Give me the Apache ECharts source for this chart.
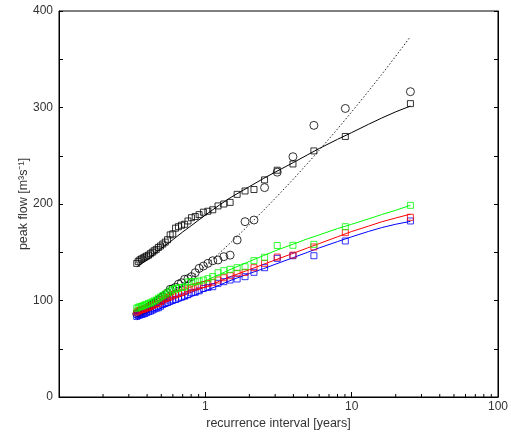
<!DOCTYPE html>
<html><head><meta charset="utf-8">
<script src="https://cdn.jsdelivr.net/npm/echarts@6/dist/echarts.min.js"></script>
<style>html,body{margin:0;padding:0;background:#fff}#c{width:511px;height:435px}</style>
</head><body><div id="c"></div>
<script>
// recurrence interval of each ranked event [years]
const returnPeriods = [25.21, 9.05, 5.52, 3.97, 3.10, 2.54, 2.15, 1.868, 1.650, 1.477, 1.337, 1.221, 1.124, 1.041, 0.970, 0.907, 0.853, 0.804, 0.761, 0.722, 0.687, 0.655, 0.626, 0.599, 0.575, 0.552, 0.532, 0.512, 0.494, 0.478, 0.462, 0.447, 0.434, 0.421, 0.409, 0.397, 0.386, 0.376, 0.366, 0.357, 0.348, 0.340];
const blackSquares = [304, 270, 255, 241.5, 235, 225, 215, 213.5, 210, 201.7, 200, 198, 194, 192.5, 191.5, 189, 187, 185.8, 182.4, 179, 178, 176.5, 175, 169, 168, 163, 160.5, 158.5, 156.5, 155, 153, 151.5, 150, 148.5, 147, 146, 145, 144, 143, 142, 140.5, 138.5];
const blackCircles = [316.4, 299, 281.5, 249, 233, 217, 183.4, 181.7, 162.7, 147, 145.4, 142, 141.2, 138.5, 135.7, 133.3, 128.8, 124.7, 122.6, 122, 118.4, 117, 113.7, 112.2, 111.6, 108, 106, 104, 102, 100.5, 99, 97.5, 96, 94.5, 93, 92, 91, 90, 89, 88, 87, 86];
const greenSquares = [198.6, 176.5, 158.2, 157.2, 157, 144.8, 141.3, 135, 134, 132.3, 130.9, 128.8, 124.7, 122.6, 121.2, 120.2, 119.5, 119.5, 119.2, 114, 113.5, 113, 112.6, 111.5, 110, 108, 106.5, 105, 103.5, 102.3, 100.5, 99.5, 98.5, 97.5, 97, 96, 95.5, 94.5, 94, 93.5, 93, 92];
const redSquares = [186.2, 170.3, 155.5, 147, 145, 138.5, 134, 129.2, 128.2, 125.7, 123.6, 121.2, 118.9, 117.5, 116.5, 115.5, 114.3, 113.5, 112, 110, 108.5, 107.5, 106.5, 105.7, 104.5, 103, 102, 100.5, 99, 97, 96.5, 95.5, 95, 94, 93, 92.5, 91.5, 91, 90.5, 90, 89, 88];
const blueSquares = [182.4, 161.7, 146.4, 146.4, 143.7, 134, 129.2, 124.7, 122.3, 121.2, 119.5, 117.8, 114.3, 113.5, 112.5, 110, 108.5, 108, 106, 104.5, 103.5, 102.5, 101, 100.5, 99.5, 98, 97, 96, 94, 92.5, 92, 91, 90, 89, 88.5, 87.5, 86.5, 86, 85.5, 85, 84.5, 83.5];

// fitted frequency curves
const fitPeriods = [0.34, 0.4, 0.5, 0.6, 0.7, 0.8, 1, 1.25, 1.5, 2, 2.5, 3, 4, 5, 6, 8, 10, 13, 16, 20, 25.2];
const blackFit = [135, 142, 154, 163, 171, 177.5, 188.5, 199, 207, 218, 226.5, 233, 243, 251, 257.5, 267, 274, 282.5, 289, 295.5, 301.5];
const dottedFit = [80, 86.5, 97.9, 107.4, 115.8, 123.2, 136, 149.2, 160.4, 178.7, 193.5, 205.8, 225.9, 242.1, 255.7, 277.7, 295.4, 316.7, 334, 353.1, 373.4];
const greenFit = [92, 95.5, 101, 106, 110.5, 114, 120.5, 127, 132.5, 140.5, 146.5, 151.5, 158.5, 164, 168, 174.5, 179, 184.5, 189, 193.5, 198.6];
const redFit = [88, 91.5, 96.5, 101, 105, 108.5, 114, 120, 125, 132, 137.5, 142, 149, 154.5, 159, 166, 171.5, 177, 181.5, 185.5, 189.5];
const blueFit = [83, 87, 92, 96.5, 100.5, 104, 110, 116, 121, 128, 133, 137.5, 144.5, 150, 154.5, 161, 166, 171.5, 175.5, 179, 182];

const xMinorTicks = [0.2,0.3,0.4,0.5,0.6,0.7,0.8,0.9,2,3,4,5,6,7,8,9,20,30,40,50,60,70,80,90];
const yTickLabels = [0, 100, 200, 300, 400];

const pairs = (xs, ys) => xs.map((x, i) => [x, ys[i]]);
const FONT = 'Liberation Sans';
const hollow = c => ({ color: 'rgba(0,0,0,0)', borderColor: c, borderWidth: 1 });

const sq = (name, vals, c) => ({
  type: 'scatter', name, data: pairs(returnPeriods, vals), symbol: 'rect', symbolSize: 6,
  itemStyle: hollow(c), z: 3
});
const ln = (name, vals, c, type) => ({
  type: 'line', name, data: pairs(fitPeriods, vals), showSymbol: false, smooth: false,
  lineStyle: { color: c, width: 1, type: type || 'solid' }, z: 2
});

const chart = echarts.init(document.getElementById('c'), null, { renderer: 'canvas' });
chart.setOption({
  animation: false,
  backgroundColor: '#fff',
  grid: { left: 59, right: 11, top: 11, bottom: 38, show: true, borderColor: '#000', borderWidth: 1, backgroundColor: 'transparent' },
  xAxis: [{
    type: 'log', logBase: 10, min: 0.1, max: 100,
    name: 'recurrence interval [years]', nameLocation: 'middle', nameGap: 20, nameMoveOverlap: false,
    nameTextStyle: { fontFamily: FONT, fontSize: 12.5, color: '#333' },
    axisLine: { show: true, lineStyle: { color: '#000', width: 1 } },
    axisTick: { show: true, inside: true, length: 5, lineStyle: { color: '#000' } },
    axisLabel: { fontFamily: FONT, fontSize: 12, color: '#333', margin: 4,
      formatter: v => (v >= 0.99 ? String(Math.round(v)) : '') },
    splitLine: { show: false }, minorTick: { show: false }
  }],
  yAxis: [{
    type: 'value', min: 0, max: 400, interval: 50,
    name: 'peak flow [m³s⁻¹]', nameLocation: 'middle', nameGap: 29, nameRotate: 90, nameMoveOverlap: false,
    nameTextStyle: { fontFamily: FONT, fontSize: 12.5, color: '#333' },
    axisLine: { show: true, lineStyle: { color: '#000', width: 1 } },
    axisTick: { show: true, inside: true, length: 4, lineStyle: { color: '#000' } },
    axisLabel: { fontFamily: FONT, fontSize: 12, color: '#333', margin: 6,
      formatter: v => (yTickLabels.indexOf(v) >= 0 ? String(v) : '') },
    splitLine: { show: false }
  }, {
    type: 'value', min: 0, max: 400, interval: 50, position: 'right',
    axisLine: { show: true, lineStyle: { color: '#000', width: 1 } },
    axisTick: { show: true, inside: true, length: 4, lineStyle: { color: '#000' } },
    axisLabel: { show: false }, splitLine: { show: false }
  }],
  series: [
    {
      type: 'custom', name: 'minorTicks', data: xMinorTicks.map(x => [x, 0]), silent: true, z: 1,
      renderItem: (params, api) => {
        const p = api.coord([api.value(0), 0]);
        return { type: 'line', shape: { x1: p[0], y1: p[1], x2: p[0], y2: p[1] - 3 }, style: { stroke: '#000', lineWidth: 1 } };
      }
    },
    {
      type: 'scatter', name: 'circles', data: pairs(returnPeriods, blackCircles), symbol: 'circle', symbolSize: 8,
      itemStyle: hollow('#000'), z: 3
    },
    ln('circleFit', dottedFit, '#222', [1.5, 2]),
    sq('blackSquares', blackSquares, '#000'),
    ln('blackFit', blackFit, '#000'),
    sq('blue', blueSquares, '#0000ff'),
    ln('blueFit', blueFit, '#0000ff'),
    sq('red', redSquares, '#ff0000'),
    ln('redFit', redFit, '#ff0000'),
    sq('green', greenSquares, '#00ff00'),
    ln('greenFit', greenFit, '#00ff00')
  ]
});
</script>
</body></html>
